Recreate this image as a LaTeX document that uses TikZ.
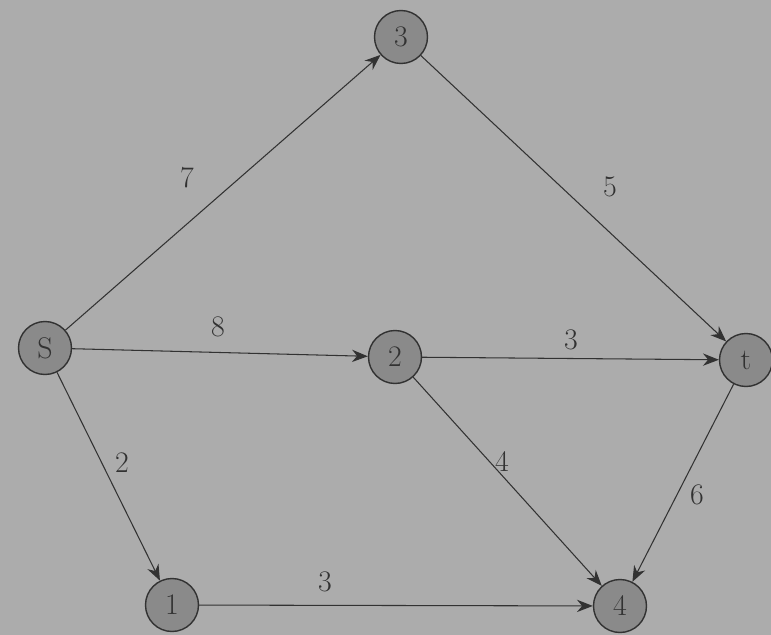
\documentclass[tikz,border=0pt]{standalone}
\usepackage{tikz}
\usetikzlibrary{arrows.meta,positioning,calc}
\definecolor{paper}{RGB}{172,172,172}
\definecolor{vfill}{RGB}{138,138,138}
\definecolor{ink}{RGB}{50,50,50}
\tikzset{
  vtx/.style ={circle,draw=ink,thick,fill=vfill,minimum size=1.06cm,inner sep=0pt,
               text=ink,font=\fontsize{17}{20}\selectfont},
  arc/.style ={draw=ink,semithick,-{Stealth[length=9pt,width=7pt]}},
  wt/.style  ={text=ink,font=\fontsize{17}{20}\selectfont,inner sep=1pt},
}
\begin{document}
\begin{tikzpicture}[x=0.02cm,y=-0.02cm]
  \fill[paper] (0,0) rectangle (771,635);
  \useasboundingbox (0,0) rectangle (771,635);
  % vertices
  \node[vtx] (s) at (45,348) {S};
  \node[vtx] (v3) at (401,37) {3};
  \node[vtx] (v2) at (395,357) {2};
  \node[vtx] (t) at (746,360) {t};
  \node[vtx] (v1) at (172,605) {1};
  \node[vtx] (v4) at (620,606) {4};
  % arcs
  \draw[arc] (s) -- (v3);
  \draw[arc] (s) -- (v2);
  \draw[arc] (s) -- (v1);
  \draw[arc] (v3) -- (t);
  \draw[arc] (v2) -- (t);
  \draw[arc] (v2) -- (v4);
  \draw[arc] (t) -- (v4);
  \draw[arc] (v1) -- (v4);
  % weights
  \node[wt] (w7) at (187,178) {7};
  \node[wt] (w8) at (218,327) {8};
  \node[wt] (w2) at (122,463) {2};
  \node[wt] (w5) at (610,187) {5};
  \node[wt] (w3a) at (571,340) {3};
  \node[wt] (w4) at (502,462) {4};
  \node[wt] (w6) at (697,495) {6};
  \node[wt] (w3b) at (325,582) {3};
\end{tikzpicture}
\end{document}
